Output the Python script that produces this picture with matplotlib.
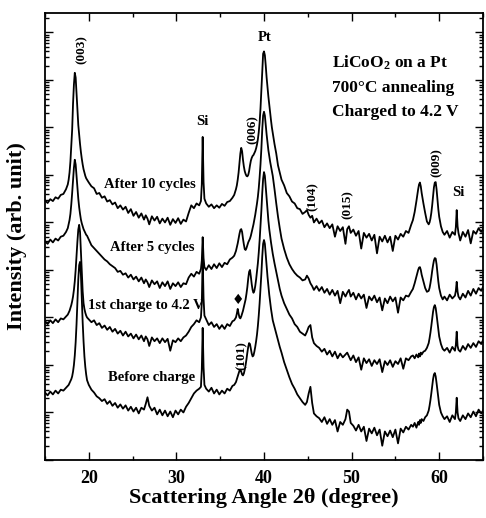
"""
XRD patterns of a LiCoO2 film on Pt at several charge states (log intensity, stacked).
"""

import matplotlib

matplotlib.use("Agg")
import matplotlib.pyplot as plt
import numpy as np
from matplotlib.ticker import LogLocator, MultipleLocator, NullFormatter

plt.rcParams["font.family"] = ["Liberation Serif", "DejaVu Sans"]
plt.rcParams["font.weight"] = "bold"
plt.rcParams["mathtext.fontset"] = "custom"
plt.rcParams["mathtext.rm"] = "Liberation Serif:bold"
plt.rcParams["mathtext.it"] = "Liberation Serif:bold:italic"
plt.rcParams["mathtext.bf"] = "Liberation Serif:bold"

# Shared 2-theta grid (degree)
two_theta = np.array([
    15.0, 15.3, 15.6, 15.9, 16.2, 16.5, 16.8, 17.1, 17.4,
    17.6, 17.7, 17.8, 17.9, 18.0, 18.1, 18.2, 18.3, 18.4, 18.5, 18.6, 18.7,
    18.8, 18.9, 19.0, 19.1, 19.2, 19.3, 19.4, 19.5, 19.6, 19.7, 19.8,
    20.0, 20.3, 20.6, 20.9, 21.2, 21.5, 21.8, 22.1, 22.4, 22.7,
    23.0, 23.3, 23.6, 23.9, 24.2, 24.5, 24.8, 25.1, 25.4, 25.7,
    26.0, 26.3, 26.5, 26.7, 26.9,
    27.2, 27.5, 27.8, 28.1, 28.4, 28.7, 29.0, 29.3, 29.6, 29.9,
    30.2, 30.5, 30.8, 31.1, 31.4, 31.7, 32.0, 32.3, 32.6,
    32.8, 32.9, 33.0, 33.1, 33.2, 33.4,
    33.7, 34.0, 34.3, 34.6, 34.9, 35.2, 35.5, 35.8, 36.1, 36.4,
    36.6, 36.8, 36.9, 37.0, 37.1, 37.2, 37.3, 37.4, 37.5, 37.6, 37.7, 37.8,
    37.9, 38.0, 38.1, 38.2, 38.3, 38.4, 38.5, 38.6, 38.7, 38.8, 38.9, 39.0,
    39.1, 39.2, 39.3, 39.4, 39.5, 39.6, 39.7, 39.8, 39.9, 40.0, 40.1, 40.2,
    40.3, 40.4, 40.5, 40.6, 40.7, 40.8, 40.9, 41.0,
    41.2, 41.4, 41.6, 41.8, 42.0, 42.3, 42.6, 42.9, 43.2, 43.5,
    43.8, 44.1, 44.4, 44.7, 44.9, 45.1, 45.3, 45.5, 45.7, 46.0,
    46.3, 46.6, 46.9, 47.2, 47.5, 47.8, 48.1, 48.4, 48.7, 49.0, 49.3,
    49.5, 49.7, 49.9,
    50.2, 50.5, 50.8, 51.1, 51.4, 51.7, 52.0, 52.3, 52.6, 52.9,
    53.2, 53.5, 53.8, 54.1, 54.4, 54.7, 55.0, 55.3, 55.6, 55.9,
    56.2, 56.5, 56.8,
    57.0, 57.2, 57.4, 57.6, 57.7, 57.8, 57.9, 58.0, 58.2, 58.4, 58.6, 58.8,
    58.9, 59.0, 59.1, 59.2, 59.3, 59.4, 59.5, 59.6, 59.7, 59.8, 59.9, 60.0,
    60.2, 60.4, 60.6,
    60.9, 61.2, 61.5, 61.8, 61.9, 62.0, 62.1, 62.2, 62.4,
    62.7, 63.0, 63.3, 63.6, 63.9, 64.2, 64.5, 64.8, 65.0,
])

# log10 intensity (arb. unit), already offset for stacking
after_10_cycles = np.array([
    5.46, 5.41, 5.49, 5.45, 5.53, 5.50, 5.58, 5.60, 5.70,
    5.80, 5.90, 6.05, 6.28, 6.60, 6.95, 7.50, 7.90, 8.15, 8.05, 7.72, 7.35,
    7.05, 6.85, 6.65, 6.48, 6.34, 6.22, 6.12, 6.05, 5.98, 5.93, 5.90,
    5.84, 5.76, 5.72, 5.60, 5.62, 5.52, 5.55, 5.44, 5.47, 5.38,
    5.42, 5.30, 5.36, 5.27, 5.33, 5.20, 5.28, 5.14, 5.22, 5.10,
    5.19, 5.06, 5.15, 5.08, 4.96,
    5.13, 5.04, 5.12, 4.98, 5.08, 5.00, 5.10, 4.95, 5.07, 4.99,
    5.09, 4.97, 5.06, 5.02, 5.20, 5.36, 5.30, 5.40, 5.36,
    5.45, 5.80, 6.80, 5.85, 5.50, 5.40,
    5.33, 5.38, 5.30, 5.36, 5.31, 5.39, 5.35, 5.43, 5.45, 5.52,
    5.58, 5.70, 5.78, 5.90, 6.05, 6.25, 6.45, 6.57, 6.50, 6.32, 6.18, 6.08,
    6.02, 5.98, 5.97, 6.00, 6.08, 6.20, 6.30, 6.36, 6.40, 6.42, 6.46, 6.50,
    6.56, 6.64, 6.75, 6.90, 7.10, 7.40, 7.80, 8.25, 8.55, 8.60, 8.52, 8.30,
    8.05, 7.85, 7.65, 7.48, 7.30, 7.15, 7.00, 6.88,
    6.65, 6.45, 6.20, 6.05, 5.90, 5.78, 5.62, 5.55, 5.44, 5.40,
    5.30, 5.28, 5.18, 5.22, 5.26, 5.16, 5.10, 5.14, 5.00, 5.08,
    4.98, 5.04, 4.90, 4.98, 4.88, 4.96, 4.70, 4.92, 4.82, 4.90, 4.55,
    4.86, 4.92, 4.78,
    4.85, 4.72, 4.82, 4.45, 4.78, 4.68, 4.76, 4.62, 4.74, 4.35,
    4.70, 4.60, 4.72, 4.58, 4.70, 4.40, 4.72, 4.64, 4.76, 4.70,
    4.82, 4.78, 4.95,
    5.05, 5.22, 5.45, 5.70, 5.80, 5.84, 5.76, 5.62, 5.40, 5.20, 5.02, 4.96,
    5.00, 5.08, 5.20, 5.36, 5.56, 5.74, 5.84, 5.85, 5.70, 5.48, 5.28, 5.12,
    4.92, 4.80, 4.74,
    4.82, 4.68, 4.80, 4.74, 4.90, 5.26, 4.92, 4.78, 4.62,
    4.80, 4.70, 4.84, 4.56, 4.82, 4.76, 4.88, 4.80, 4.86,
])

after_5_cycles = np.array([
    4.60, 4.55, 4.64, 4.58, 4.66, 4.62, 4.70, 4.72, 4.80,
    4.88, 4.96, 5.05, 5.18, 5.38, 5.62, 5.90, 6.15, 6.32, 6.22, 5.98, 5.72,
    5.50, 5.32, 5.18, 5.06, 4.98, 4.92, 4.86, 4.82, 4.78, 4.74, 4.72,
    4.64, 4.52, 4.46, 4.40, 4.34, 4.28, 4.22, 4.18, 4.12, 4.08,
    4.04, 3.96, 3.98, 3.90, 3.93, 3.84, 3.90, 3.80, 3.86, 3.76,
    3.84, 3.72, 3.80, 3.74, 3.64,
    3.78, 3.70, 3.76, 3.62, 3.74, 3.66, 3.76, 3.60, 3.72, 3.66,
    3.74, 3.64, 3.72, 3.70, 3.84, 3.92, 3.86, 3.96, 3.92,
    4.02, 4.20, 4.69, 4.25, 4.06, 4.00,
    4.10, 4.02, 4.12, 4.04, 4.14, 4.06, 4.15, 4.12, 4.22, 4.26,
    4.30, 4.40, 4.48, 4.56, 4.66, 4.76, 4.84, 4.86, 4.80, 4.66, 4.54, 4.44,
    4.42, 4.46, 4.52, 4.58, 4.62, 4.66, 4.72, 4.80, 4.88, 4.96, 5.06, 5.16,
    5.28, 5.40, 5.54, 5.72, 5.95, 6.22, 6.55, 6.95, 7.25, 7.33, 7.25, 7.05,
    6.85, 6.68, 6.52, 6.40, 6.28, 6.18, 6.08, 5.98,
    5.70, 5.40, 5.12, 4.88, 4.66, 4.44, 4.26, 4.12, 4.02, 3.94,
    3.88, 3.84, 3.78, 3.80, 3.88, 3.82, 3.72, 3.66, 3.58, 3.66,
    3.56, 3.64, 3.52, 3.60, 3.48, 3.58, 3.46, 3.56, 3.30, 3.54, 3.44,
    3.52, 3.58, 3.44,
    3.52, 3.38, 3.50, 3.40, 3.48, 3.20, 3.44, 3.36, 3.46, 3.32,
    3.42, 3.15, 3.40, 3.30, 3.44, 3.34, 3.42, 3.10, 3.42, 3.36,
    3.46, 3.44, 3.54,
    3.60, 3.72, 3.86, 4.00, 4.05, 4.06, 4.00, 3.90, 3.76, 3.62, 3.54, 3.56,
    3.62, 3.72, 3.84, 3.98, 4.10, 4.20, 4.25, 4.24, 4.12, 3.94, 3.76, 3.62,
    3.46, 3.38, 3.44,
    3.36, 3.48, 3.40, 3.46, 3.56, 3.75, 3.54, 3.44, 3.38,
    3.50, 3.42, 3.56, 3.46, 3.60, 3.50, 3.62, 3.56, 3.64,
])

first_charge = np.array([
    2.92, 2.86, 2.94, 2.88, 2.96, 2.90, 2.98, 2.96, 3.02,
    3.06, 3.10, 3.14, 3.20, 3.26, 3.34, 3.44, 3.58, 3.76, 4.00, 4.30, 4.60,
    4.85, 4.95, 4.80, 4.40, 3.95, 3.55, 3.30, 3.18, 3.10, 3.04, 3.00,
    2.96, 2.90, 2.94, 2.84, 2.88, 2.78, 2.83, 2.74, 2.80, 2.70,
    2.76, 2.66, 2.72, 2.62, 2.70, 2.60, 2.66, 2.56, 2.64, 2.54,
    2.62, 2.50, 2.60, 2.54, 2.40,
    2.58, 2.50, 2.56, 2.46, 2.56, 2.48, 2.55, 2.30, 2.52, 2.48,
    2.56, 2.50, 2.58, 2.62, 2.70, 2.80, 2.86, 2.94, 2.90,
    3.00, 3.30, 4.25, 3.40, 3.04, 2.96,
    2.84, 2.90, 2.80, 2.86, 2.76, 2.84, 2.76, 2.86, 2.82, 2.92,
    2.94, 3.00, 3.08, 3.18, 3.08, 3.00, 2.98, 3.02, 3.08, 3.14, 3.22, 3.30,
    3.38, 3.50, 3.64, 3.82, 3.96, 4.00, 3.86, 3.70, 3.58, 3.52, 3.56, 3.66,
    3.80, 3.96, 4.14, 4.36, 4.62, 4.92, 5.25, 5.62, 5.92, 6.06, 5.98, 5.74,
    5.48, 5.24, 5.04, 4.86, 4.72, 4.58, 4.46, 4.34,
    4.14, 3.96, 3.78, 3.60, 3.46, 3.30, 3.18, 3.06, 2.98, 2.86,
    2.80, 2.70, 2.66, 2.62, 2.70, 2.80, 2.84, 2.58, 2.46, 2.40,
    2.36, 2.28, 2.34, 2.22, 2.30, 2.18, 2.28, 2.14, 2.24, 2.16, 2.22,
    2.26, 2.18, 2.10,
    2.20, 2.06, 2.16, 1.90, 2.14, 2.04, 2.12, 1.98, 2.10, 2.02,
    2.12, 1.85, 2.08, 2.00, 2.10, 1.96, 2.08, 2.02, 2.14, 1.92,
    2.14, 2.10, 2.18,
    2.20, 2.14, 2.22, 2.16, 2.24, 2.18, 2.26, 2.22, 2.28, 2.30, 2.36, 2.46,
    2.56, 2.68, 2.82, 2.98, 3.12, 3.22, 3.26, 3.20, 3.06, 2.90, 2.74, 2.60,
    2.44, 2.34, 2.30,
    2.36, 2.26, 2.38, 2.30, 2.42, 2.70, 2.40, 2.32, 2.28,
    2.40, 2.32, 2.44, 2.36, 2.46, 2.38, 2.50, 2.44, 2.52,
])

before_charge = np.array([
    1.42, 1.36, 1.44, 1.38, 1.46, 1.40, 1.48, 1.46, 1.52,
    1.56, 1.58, 1.62, 1.66, 1.70, 1.76, 1.86, 2.00, 2.20, 2.48, 2.86, 3.32,
    3.80, 4.10, 4.17, 3.90, 3.40, 2.90, 2.50, 2.18, 1.96, 1.80, 1.68,
    1.58, 1.48, 1.42, 1.34, 1.30, 1.24, 1.28, 1.18, 1.24, 1.14,
    1.20, 1.10, 1.17, 1.08, 1.15, 1.04, 1.12, 1.02, 1.10, 0.98,
    1.10, 1.06, 1.18, 1.32, 1.14,
    1.04, 1.10, 0.96, 1.06, 0.94, 1.04, 0.92, 1.02, 0.90, 1.04,
    0.96, 1.06, 1.00, 1.12, 1.20, 1.30, 1.40, 1.46, 1.50,
    1.54, 1.90, 2.78, 1.95, 1.58, 1.50,
    1.44, 1.52, 1.40, 1.48, 1.38, 1.46, 1.40, 1.50, 1.46, 1.56,
    1.58, 1.64, 1.70, 1.76, 1.82, 1.88, 1.90, 1.86, 1.80, 1.78, 1.82, 1.90,
    2.00, 2.12, 2.26, 2.38, 2.46, 2.44, 2.34, 2.24, 2.18, 2.20, 2.28, 2.38,
    2.50, 2.64, 2.82, 3.04, 3.30, 3.60, 3.92, 4.28, 4.55, 4.63, 4.55, 4.32,
    4.08, 3.86, 3.66, 3.48, 3.32, 3.18, 3.06, 2.94,
    2.80, 2.66, 2.52, 2.38, 2.26, 2.06, 1.90, 1.74, 1.60, 1.50,
    1.38, 1.30, 1.22, 1.16, 1.22, 1.40, 1.54, 1.20, 0.98, 0.92,
    0.88, 0.80, 0.90, 0.76, 0.86, 0.74, 0.84, 0.60, 0.80, 0.74, 0.86,
    1.06, 1.02, 0.78,
    0.72, 0.62, 0.74, 0.60, 0.70, 0.40, 0.66, 0.56, 0.68, 0.52,
    0.64, 0.30, 0.60, 0.50, 0.62, 0.48, 0.64, 0.35, 0.66, 0.58,
    0.70, 0.64, 0.74,
    0.70, 0.78, 0.68, 0.80, 0.74, 0.84, 0.78, 0.86, 0.82, 0.90, 0.94, 1.04,
    1.14, 1.26, 1.40, 1.56, 1.70, 1.80, 1.83, 1.76, 1.62, 1.46, 1.30, 1.16,
    1.00, 0.92, 0.86,
    0.92, 0.80, 0.94, 0.86, 1.00, 1.31, 1.00, 0.88, 0.82,
    0.94, 0.86, 0.98, 0.90, 1.02, 0.92, 1.06, 0.98, 1.04,
])

traces = [after_10_cycles, after_5_cycles, first_charge, before_charge]

# Text labels: (2theta, log10 intensity, text)
trace_labels = [
    (27.0, 5.79, "After 10 cycles"),
    (27.2, 4.48, "After 5 cycles"),
    (27.2, 1.73, "Before charge"),
]
peak_labels = [
    (19.2, 8.63, "(003)"),
    (38.7, 6.95, "(006)"),
    (45.6, 5.54, "(104)"),
    (49.6, 5.37, "(015)"),
    (59.75, 6.27, "(009)"),
    (37.5, 2.19, "(101)"),
]
info_lines = ["LiCoO$_2$ on a Pt", "700°C annealing", "Charged to 4.2 V"]
info_levels = [8.36, 7.83, 7.33]


def main() -> None:
    fig = plt.figure(figsize=(4.86, 5.18), dpi=100)
    ax = fig.add_axes([0.0926, 0.112, 0.9012, 0.863])

    for trace in traces:
        ax.plot(two_theta, 10 ** trace, color="black", linewidth=1.3)

    ax.set_yscale("log")
    ax.set_xlim(15, 65)
    ax.set_ylim(1, 10 ** 9.41)

    ax.xaxis.set_major_locator(MultipleLocator(10))
    ax.xaxis.set_minor_locator(MultipleLocator(5))
    ax.yaxis.set_major_locator(LogLocator(base=10, numticks=20))
    ax.yaxis.set_minor_locator(LogLocator(base=10, subs=np.arange(2, 10), numticks=20))
    ax.yaxis.set_major_formatter(NullFormatter())
    ax.yaxis.set_minor_formatter(NullFormatter())

    ax.tick_params(which="both", direction="in", top=True, right=True, width=1)
    ax.tick_params(which="major", length=6, labelsize=13, pad=7)
    ax.tick_params(which="minor", length=3)
    for lbl in ax.get_xticklabels():
        lbl.set_fontweight("bold")
    for spine in ax.spines.values():
        spine.set_linewidth(1.3)

    ax.set_xlabel("Scattering Angle 2θ (degree)", fontsize=16, fontweight="bold", labelpad=1)
    ax.set_ylabel("Intensity (arb. unit)", fontsize=16, fontweight="bold", labelpad=6)

    txt = dict(fontweight="bold", fontsize=10.5)
    for x, y, s in trace_labels:
        ax.text(x, 10 ** y, s, ha="center", va="center", **txt)
    ax.text(19.9, 10 ** 3.26, "1st charge to 4.2 V", ha="left", va="center", zorder=1, **txt)

    for x, y, s in peak_labels:
        ax.text(x, 10 ** y, s, ha="center", va="center", rotation=90, fontweight="bold", fontsize=9.5)

    ax.text(33.0, 10 ** 7.12, "Si", ha="center", va="center", **txt)
    ax.text(62.15, 10 ** 5.62, "Si", ha="center", va="center", **txt)
    ax.text(40.1, 10 ** 8.9, "Pt", ha="center", va="center", **txt)
    ax.text(37.03, 10 ** 3.37, "♦", ha="center", va="center", fontsize=10,
            family=["DejaVu Sans"])

    for line, y in zip(info_lines, info_levels):
        ax.text(47.8, 10 ** y, line, ha="left", va="center", fontweight="bold", fontsize=12.5)

    fig.savefig("out.png", dpi=100)
    plt.close(fig)


if __name__ == "__main__":
    main()
